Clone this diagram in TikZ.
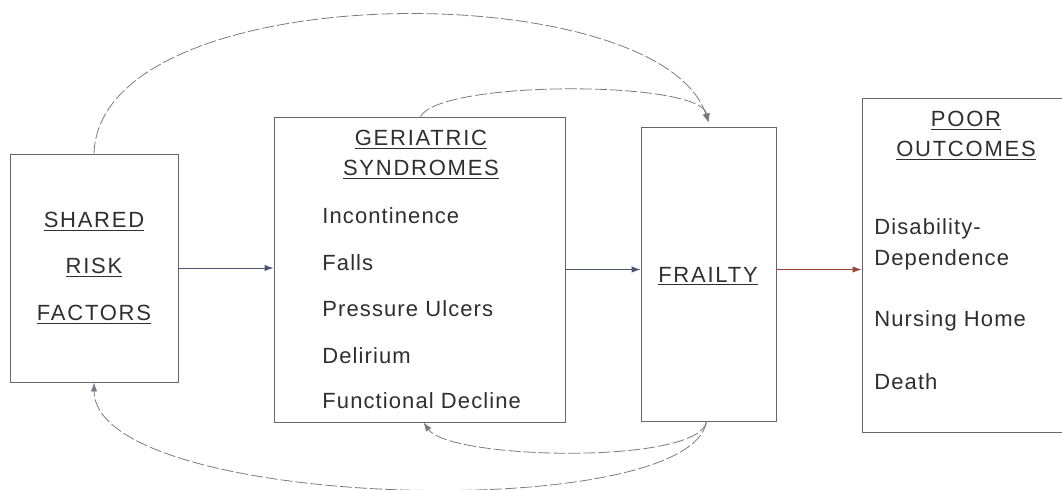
\documentclass[tikz,border=0pt]{standalone}
\usepackage{fontspec}
\setmainfont{Liberation Sans}
\newfontfamily\bodyfont[LetterSpace=5]{Liberation Sans}
\newfontfamily\titlefont[LetterSpace=8]{Liberation Sans}
\usetikzlibrary{arrows.meta}
\definecolor{ink}{HTML}{2E2E33}
\definecolor{boxline}{HTML}{66666C}
\definecolor{curveline}{HTML}{7A7A82}
\definecolor{bluearrow}{HTML}{4A5672}
\definecolor{redarrow}{HTML}{9A4535}
\tikzset{
  box/.style={draw=boxline, line width=0.45pt, inner sep=0pt},
  ttl/.style={text=ink, font=\titlefont\fontsize{11}{13}\selectfont, inner sep=0pt},
  itm/.style={text=ink, font=\bodyfont\fontsize{11}{13}\selectfont, inner sep=0pt, anchor=west},
  tip/.style={-{Latex[length=4.5pt,width=3.2pt]}},
  straight/.style={tip, line width=0.45pt, draw=bluearrow},
  curve/.style={tip, line width=0.4pt, draw=curveline, dash pattern=on 6pt off 1.5pt}
}
\begin{document}
\begin{tikzpicture}[x=0.5pt,y=-0.5pt]
\useasboundingbox (0,0) rectangle (1062,490);
\clip (0,0) rectangle (1062,490);
% boxes
\node[box, minimum width=84pt, minimum height=114pt] (shared) at (94,268) {};
\node[box, minimum width=145.5pt, minimum height=152.5pt] (geri) at (419.5,269.5) {};
\node[box, minimum width=67.5pt, minimum height=147pt] (frail) at (708.5,274) {};
\node[box, minimum width=110pt, minimum height=167pt] (out) at (972,265) {};
% shared texts
\node[ttl] (s1) at (94,222) {\underline{SHARED}};
\node[ttl] (s2) at (94,268) {\underline{RISK}};
\node[ttl] (s3) at (94,315) {\underline{FACTORS}};
% geriatric texts
\node[ttl] (g1) at (421,139.5) {\underline{GERIATRIC}};
\node[ttl] (g2) at (421,169.5) {\underline{SYNDROMES}};
\node[itm] (i1) at (322,216) {Incontinence};
\node[itm] (i2) at (322,262.5) {Falls};
\node[itm] (i3) at (322,309) {Pressure Ulcers};
\node[itm] (i4) at (322,355.5) {Delirium};
\node[itm] (i5) at (322,401) {Functional Decline};
% frailty
\node[ttl] (f1) at (708,276.5) {\underline{FRAILTY}};
% outcomes
\node[ttl] (o1) at (966,121) {\underline{POOR}};
\node[ttl] (o2) at (966,151) {\underline{OUTCOMES}};
\node[itm] (p1) at (874,228.5) {Disability-};
\node[itm] (p2) at (874,259.5) {Dependence};
\node[itm] (p3) at (874,321) {Nursing Home};
\node[itm] (p4) at (874,382) {Death};
% straight arrows
\draw[straight] (shared.east) -- (geri.west |- shared.east);
\draw[straight] (geri.east) -- (frail.west |- geri.east);
\draw[straight, draw=redarrow] (frail.east |- geri.east) -- (out.west |- geri.east);
% curved arrows
\coordinate (ftop) at ([yshift=2pt]frail.north);
\draw[curve] (shared.north) .. controls (100,-26) and (660,-26) .. (ftop);
\draw[curve] ([xshift=0.5pt]geri.north) .. controls (440,80) and (700,80) .. (ftop);
\coordinate (fbot) at ([xshift=-1pt]frail.south);
\draw[curve] (fbot) .. controls (700,465) and (450,460) .. ([xshift=2pt]geri.south);
\draw[curve] (fbot) .. controls (690,525) and (95,510) .. (shared.south);
\end{tikzpicture}
\end{document}
